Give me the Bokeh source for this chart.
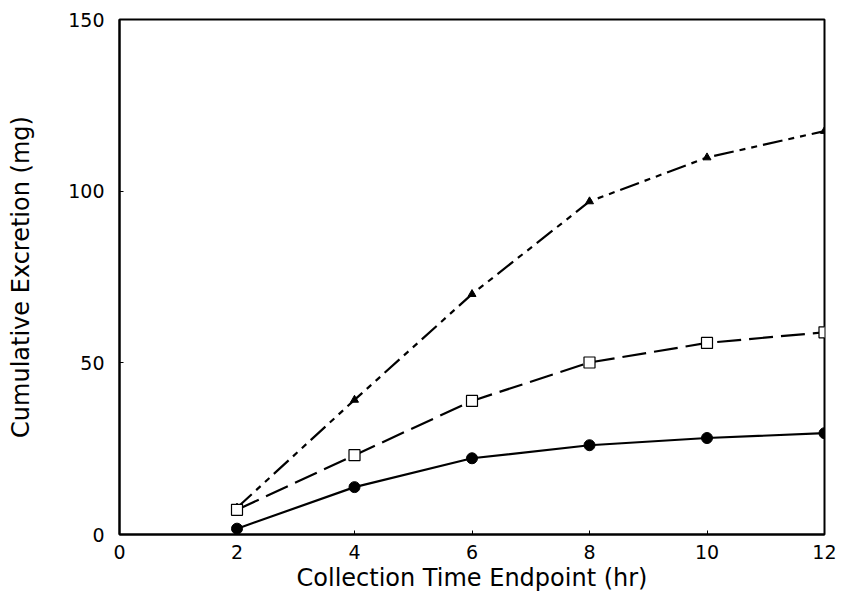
from bokeh.plotting import figure
from bokeh.models import Range1d, FixedTicker
from bokeh.embed import file_html
from bokeh.resources import INLINE

hours = [2, 4, 6, 8, 10, 12]
circle_vals = [1.7, 13.8, 22.2, 26.0, 28.1, 29.5]
square_vals = [7.2, 23.1, 38.9, 50.1, 55.8, 58.9]
triangle_vals = [7.8, 39.2, 70.0, 97.0, 109.8, 117.5]
x_ticks = [0, 2, 4, 6, 8, 10, 12]
y_ticks = [0, 50, 100, 150]

FONT = "DejaVu Sans"

p = figure(width=836, height=594, output_backend="svg", toolbar_location=None,
           x_range=Range1d(0, 12), y_range=Range1d(0, 150),
           min_border_left=119, min_border_right=12, min_border_top=19, min_border_bottom=58)
p.grid.visible = False
p.outline_line_color = "black"
p.outline_line_width = 2
p.background_fill_color = "white"
p.border_fill_color = "white"

for ax in (p.xaxis[0], p.yaxis[0]):
    ax.axis_line_width = 2
    ax.axis_line_color = "black"
    ax.major_tick_in = 4
    ax.major_tick_out = 0
    ax.major_tick_line_width = 1
    ax.minor_tick_in = 0
    ax.minor_tick_out = 0
    ax.major_tick_line_color = "black"
    ax.major_label_text_font = FONT
    ax.major_label_text_font_size = "19px"
    ax.major_label_text_color = "black"
    ax.axis_label_text_font = FONT
    ax.axis_label_text_font_size = "24px"
    ax.axis_label_text_font_style = "normal"
    ax.axis_label_text_color = "black"

p.xaxis.ticker = FixedTicker(ticks=x_ticks)
p.yaxis.ticker = FixedTicker(ticks=y_ticks)
p.xaxis.axis_label = "Collection Time Endpoint (hr)"
p.yaxis.axis_label = "Cumulative Excretion (mg)"
p.xaxis.major_label_standoff = 10
p.xaxis.axis_label_standoff = 2
p.yaxis.major_label_standoff = 15
p.yaxis.axis_label_standoff = 30

# triangles, dash-dot
p.line(hours, triangle_vals, line_color="black", line_width=2.2, line_dash="20 6 6 6 6 6")
p.scatter(hours, triangle_vals, marker="triangle", size=8, fill_color="black", line_color="black")

# squares, long dash
p.line(hours, square_vals, line_color="black", line_width=2.2, line_dash="24 8")
p.scatter(hours, square_vals, marker="square", size=11, fill_color="white", line_color="black", line_width=1.2)

# circles, solid
p.line(hours, circle_vals, line_color="black", line_width=2.2)
p.scatter(hours, circle_vals, marker="circle", size=11, fill_color="black", line_color="black")

open("out.html", "w").write(file_html(p, INLINE))
